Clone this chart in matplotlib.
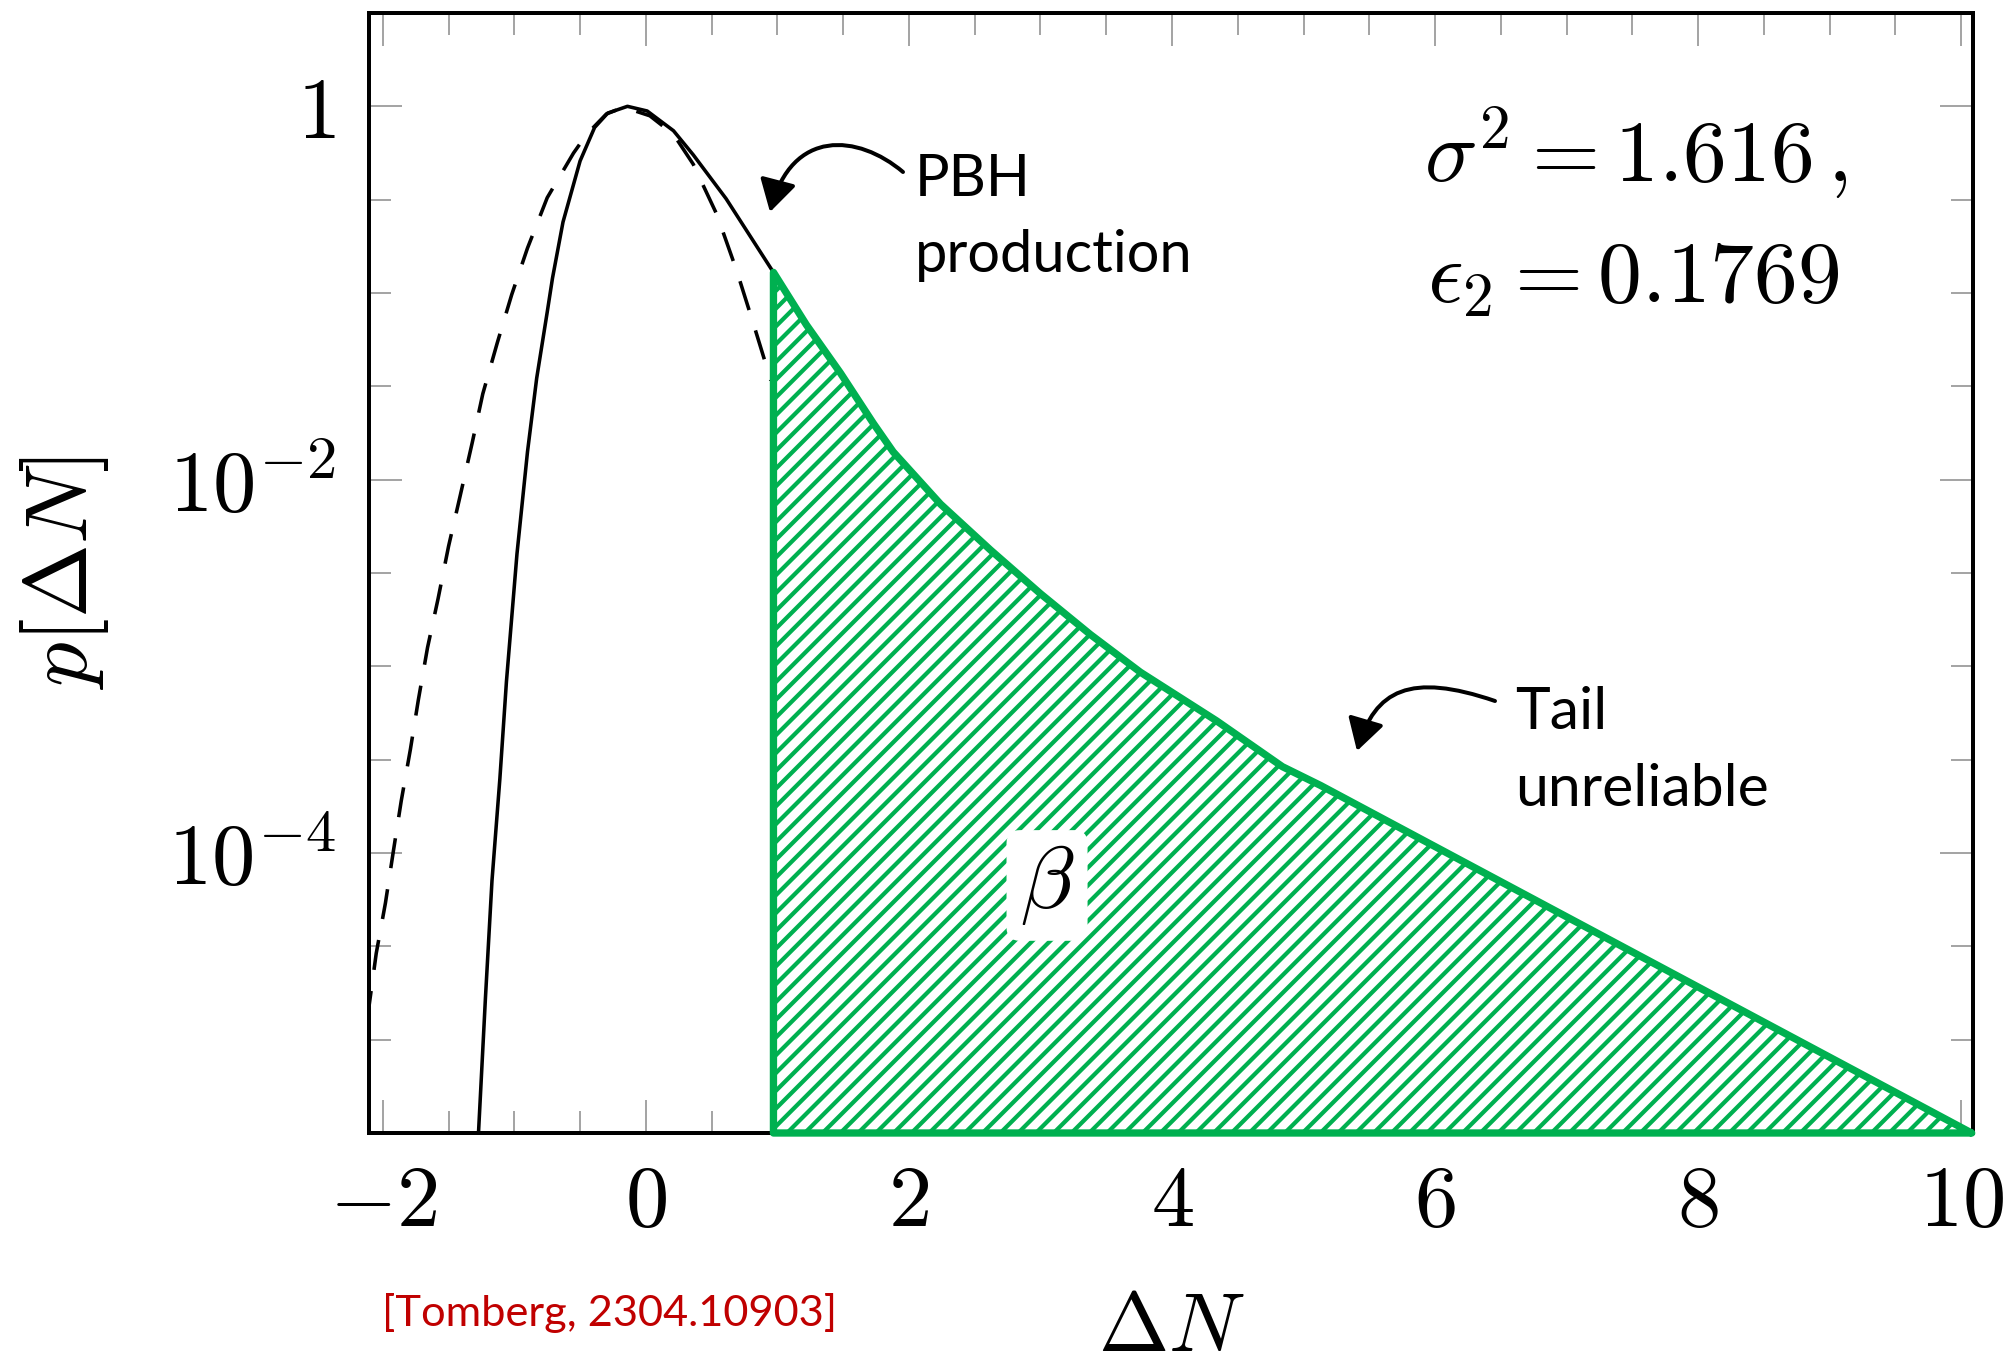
import matplotlib
matplotlib.use("Agg")
import matplotlib.pyplot as plt
from matplotlib.ticker import FixedLocator, FixedFormatter, NullFormatter
from matplotlib.patches import FancyArrowPatch
from matplotlib.path import Path

# ---------------- data ----------------
x_solid = [-1.28, -1.22, -1.17, -1.11, -1.06, -0.98, -0.90, -0.83, -0.75, -0.71,
           -0.63, -0.50, -0.39, -0.29, -0.14, 0.01, 0.21, 0.36, 0.61, 0.97]
p_solid = [2.5e-6, 1.66e-5, 7.1e-5, 2.5e-4, 8.3e-4, 4.0e-3, 1.41e-2, 3.5e-2, 7.9e-2, 0.12,
           0.24, 0.51, 0.77, 0.92, 1.0, 0.944, 0.74, 0.55, 0.32, 0.129]

x_dashed = [-2.12, -2.05, -1.98, -1.92, -1.86, -1.79, -1.73, -1.66, -1.58, -1.50,
            -1.41, -1.32, -1.24, -1.13, -1.02, -0.90, -0.75, -0.55, -0.45, -0.30,
            -0.17, 0.03, 0.21, 0.36, 0.54, 0.69, 0.82, 0.95]
p_dashed = [1.26e-5, 2.9e-5, 5.4e-5, 1.02e-4, 1.9e-4, 3.6e-4, 6.6e-4, 1.26e-3, 2.3e-3, 4.4e-3,
            8.3e-3, 1.58e-2, 2.88e-2, 5.4e-2, 9.8e-2, 0.174, 0.324, 0.562, 0.708, 0.91,
            0.99, 0.89, 0.708, 0.49, 0.263, 0.132, 0.0676, 0.034]

x_tail = [0.97, 1.22, 1.48, 1.73, 1.88, 2.24, 2.62, 3.00, 3.38, 3.76, 4.34, 4.84, 5.13, 10.08]
p_tail = [0.129, 0.0676, 0.0372, 0.0200, 0.0141, 7.4e-3, 4.2e-3, 2.45e-3, 1.48e-3, 9.3e-4,
          5.1e-4, 2.9e-4, 2.3e-4, 3.16e-6]

x_major = [-2, 0, 2, 4, 6, 8, 10]
x_major_labels = ['$-2$', '$0$', '$2$', '$4$', '$6$', '$8$', '$10$']
x_minor = [-2, -1.5, -1, -0.5, 0, 0.5, 1, 1.5, 2, 2.5, 3, 3.5, 4, 4.5, 5, 5.5, 6, 6.5,
           7, 7.5, 8, 8.5, 9, 9.5, 10]
y_major = [1e-4, 1e-2, 1.0]
y_major_labels = ['$10^{-4}$', '$10^{-2}$', '$1$']
y_minor_exp = [-5.5, -5, -4.5, -4, -3.5, -3, -2.5, -2, -1.5, -1, -0.5, 0, 0.5]

x_limits = (-2.105, 10.09)
y_limits = (10 ** -5.5, 10 ** 0.5)

param_lines = [r'$\sigma^2 = 1.616\,,$', r'$\epsilon_2 = 0.1769$']
beta_label = r'$\beta$'
beta_pos = (3.05, 6.7e-5)
pbh_lines = ['PBH', 'production']
tail_lines = ['Tail', 'unreliable']
citation = '[Tomberg, 2304.10903]'

# ---------------- styling ----------------
W, H = 2015, 1369
DPI = 160
GREEN = '#00B050'
plt.rcParams['mathtext.fontset'] = 'cm'
plt.rcParams['hatch.linewidth'] = 1.9
plt.rcParams['font.family'] = ['Lato', 'DejaVu Sans']

fig = plt.figure(figsize=(W / DPI, H / DPI), dpi=DPI)
ax = fig.add_axes([369 / W, 1 - 1133 / H, (1973 - 369) / W, (1133 - 13) / H])
ax.set_yscale('log')
ax.set_xlim(*x_limits)
ax.set_ylim(*y_limits)

ax.plot(x_dashed, p_dashed, color='black', lw=1.6, linestyle=(0, (8.5, 6.0)),
        dash_capstyle='butt', zorder=2)
ax.plot(x_solid, p_solid, color='black', lw=1.6, zorder=2)

ax.fill_between(x_tail, p_tail, y_limits[0], facecolor='white', edgecolor=GREEN,
                hatch='///', linewidth=3.3, zorder=3, clip_on=False, joinstyle='round')

# ticks
ax.xaxis.set_major_locator(FixedLocator(x_major))
ax.xaxis.set_major_formatter(FixedFormatter(x_major_labels))
ax.xaxis.set_minor_locator(FixedLocator(x_minor))
ax.xaxis.set_minor_formatter(NullFormatter())
ax.yaxis.set_major_locator(FixedLocator(y_major))
ax.yaxis.set_major_formatter(FixedFormatter(y_major_labels))
ax.yaxis.set_minor_locator(FixedLocator([10 ** e for e in y_minor_exp]))
ax.yaxis.set_minor_formatter(NullFormatter())

ax.tick_params(which='both', direction='in', top=True, right=True, color='#9a9a9a', width=0.8)
ax.tick_params(which='major', length=15)
ax.tick_params(which='minor', length=10)
ax.tick_params(axis='x', which='major', labelsize=39, pad=13)
ax.tick_params(axis='y', which='major', labelsize=39, pad=15)
for s in ax.spines.values():
    s.set_linewidth(1.8)
    s.set_zorder(2.5)

ax.set_xlabel(r'$\Delta N$', fontsize=38)
ax.xaxis.set_label_coords(0.5, -0.140)
ax.set_ylabel(r'$p[\Delta N]$', fontsize=40)
ax.yaxis.set_label_coords(-0.161, 0.5)

ax.text(beta_pos[0], beta_pos[1], beta_label, fontsize=40, ha='center', va='center',
        zorder=5, bbox=dict(boxstyle='round,pad=0.15', fc='white', ec='none'))


def fx(px):
    return px / W


def fy(py):
    return 1 - py / H


fig.text(fx(1424), fy(182), param_lines[0], fontsize=39.5, ha='left', va='baseline')
fig.text(fx(1427), fy(302), param_lines[1], fontsize=39.5, ha='left', va='baseline')

fig.text(fx(915), fy(196), pbh_lines[0], fontsize=26, ha='left', va='baseline')
fig.text(fx(915), fy(272), pbh_lines[1], fontsize=26, ha='left', va='baseline')
fig.text(fx(1515), fy(729), tail_lines[0], fontsize=26.5, ha='left', va='baseline')
fig.text(fx(1515), fy(806), tail_lines[1], fontsize=26.5, ha='left', va='baseline')
fig.text(fx(382), fy(1326), citation, fontsize=19.5, ha='left', va='baseline', color='#C00000')


def curved_arrow(pts):
    verts = [(fx(x), fy(y)) for x, y in pts]
    path = Path(verts, [Path.MOVETO, Path.CURVE4, Path.CURVE4, Path.CURVE4])
    arr = FancyArrowPatch(path=path, transform=fig.transFigure,
                          arrowstyle='-|>,head_length=0.55,head_width=0.32',
                          mutation_scale=22, color='black', lw=1.8)
    fig.add_artist(arr)


curved_arrow([(903, 172), (858, 134), (792, 128), (770, 212)])
curved_arrow([(1495, 701), (1410, 672), (1375, 690), (1357, 751)])

fig.savefig('out.png', dpi=DPI)
